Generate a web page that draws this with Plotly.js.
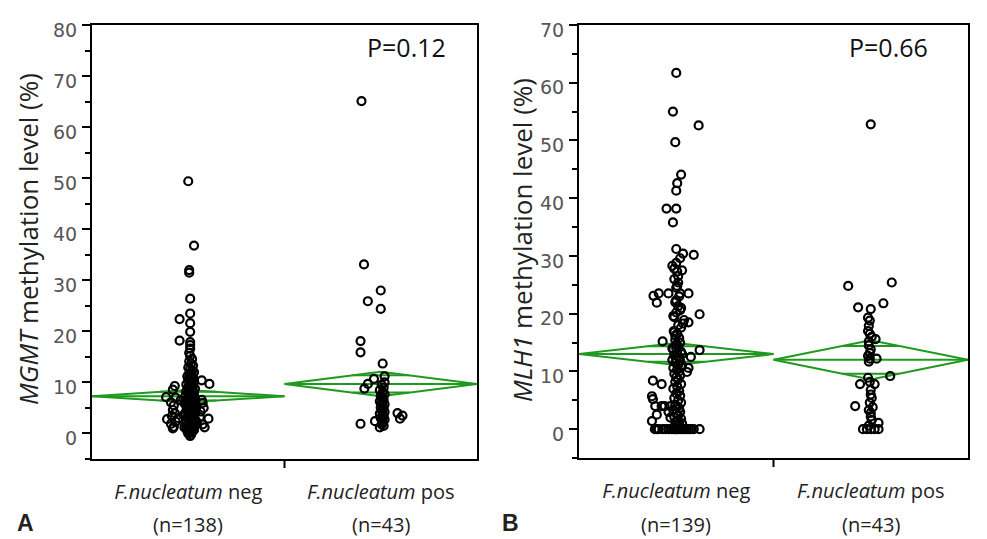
<!DOCTYPE html>
<html>
<head>
<meta charset="utf-8">
<script src="https://cdn.plot.ly/plotly-3.0.1.min.js"></script>
<style>html,body{margin:0;padding:0;background:#fff;}#chart{width:987px;height:539px;}</style>
</head>
<body>
<div id="chart"></div>
<script>
// ---------- DATA ----------
const groupNames = ['<i>F.nucleatum</i> neg', '<i>F.nucleatum</i> pos'];
const groupNsA = ['(n=138)', '(n=43)'];
const groupNsB = ['(n=139)', '(n=43)'];
const titleA = '<i>MGMT</i> methylation level (%)';
const titleB = '<i>MLH1</i> methylation level (%)';
const pValueA = 'P=0.12';
const pValueB = 'P=0.66';

// Panel A, negative group (138 points): values and horizontal jitter (category units)
const mgmtNegY = [
  49.4, 36.8, 32.0, 31.5, 26.4, 23.5, 22.4, 21.6, 19.9, 18.2, 17.9, 17.3, 16.6, 15.8,
  9.3, 8.6, 7.1, 7.0, 6.1, 5.5, 4.6, 4.0, 3.4, 2.8, 2.3, 1.9, 1.3, 1.0, 6.5, 3.0,
  10.4, 9.7, 6.6, 6.0, 5.0, 4.3, 3.2, 2.9, 1.8, 1.2, 5.5, 2.2,
  15.2, 14.6, 14.1, 13.7, 13.3, 12.9, 12.6, 12.3, 12.0, 11.7,
  11.5, 11.2, 11.0, 10.8, 10.6, 10.4, 10.2, 10.0, 9.8, 9.6,
  9.4, 9.3, 9.1, 8.9, 8.8, 8.6, 8.5, 8.3, 8.2, 8.0,
  7.9, 7.7, 7.6, 7.4, 7.3, 7.1, 7.0, 6.9, 6.7, 6.6,
  6.5, 6.3, 6.2, 6.1, 5.9, 5.8, 5.7, 5.5, 5.4, 5.3,
  5.1, 5.0, 4.9, 4.7, 4.6, 4.5, 4.3, 4.2, 4.1, 3.9,
  3.8, 3.7, 3.5, 3.4, 3.3, 3.1, 3.0, 2.9, 2.7, 2.6,
  2.5, 2.3, 2.2, 2.1, 1.9, 1.8, 1.7, 1.5, 1.4, 1.3,
  1.1, 1.0, 0.9, 0.7, 0.6, 0.5, 0.3, 0.2, 0.0, -0.2,
  -0.5, 1.2, 2.4, 3.6, 4.8, 6.0
];
const mgmtNegDx = [
  0, 0.03, 0.005, 0.005, 0.01, 0.01, -0.045, 0.01, 0.01, -0.045, 0.01, 0.01, 0.01, 0.005,
  -0.07, -0.08, -0.115, -0.065, -0.09, -0.075, -0.08, -0.07, -0.085, -0.11, -0.065, -0.09, -0.075, -0.08, -0.04, -0.05,
  0.07, 0.11, 0.07, 0.075, 0.08, 0.065, 0.06, 0.105, 0.075, 0.085, 0.04, 0.045,
  0.01, 0.02, 0.005, 0.015, 0.025, 0.0, 0.01, 0.02, 0.03, 0.005,
  0.015, -0.005, 0.025, 0.01, 0.0, 0.02, 0.03, 0.005, 0.015, -0.01,
  0.01, 0.025, 0.0, 0.02, 0.035, 0.005, 0.015, -0.01, 0.01, 0.03,
  0.0, 0.02, 0.01, -0.015, 0.025, 0.005, 0.035, 0.015, -0.005, 0.02,
  0.01, 0.03, -0.01, 0.005, 0.025, 0.015, -0.015, 0.02, 0.0, 0.035,
  0.01, -0.005, 0.025, 0.015, 0.03, -0.01, 0.005, 0.02, 0.0, 0.035,
  0.015, -0.015, 0.025, 0.01, 0.03, -0.005, 0.02, 0.0, 0.035, 0.01,
  -0.01, 0.025, 0.015, 0.03, -0.015, 0.005, 0.02, 0.035, 0.0, 0.01,
  0.025, -0.01, 0.015, 0.03, 0.005, -0.005, 0.02, 0.01, 0.0, 0.015,
  0.01, -0.02, 0.04, -0.025, 0.04, -0.02
];

// Panel A, positive group (43 points)
const mgmtPosY = [
  65.1, 33.1, 28.0, 25.9, 24.4, 18.1, 15.9, 13.7, 11.2, 10.7, 10.0, 9.7, 8.8, 4.0, 3.5, 2.9, 2.4, 1.9, 1.2,
  9.5, 9.0, 8.5, 8.1, 7.7, 7.3, 7.0, 6.6, 6.3, 6.0, 5.7, 5.4, 5.1, 4.8, 4.5, 4.2, 3.9, 3.6, 3.3, 3.0, 2.7, 2.2, 1.8, 1.5
];
const mgmtPosDx = [
  -0.1, -0.087, 0, -0.067, 0, -0.105, -0.105, 0.01, 0.02, -0.035, 0.02, -0.067, -0.085, 0.087, 0.113, 0.1, -0.03, -0.105, -0.005,
  0.005, 0.015, -0.005, 0.01, 0.02, 0, 0.01, 0.015, -0.005, 0.005, 0.02, 0.01, 0, 0.015, 0.005, 0.02, -0.005, 0.01, 0.015, 0, 0.02, 0.01, 0.005, 0.015
];

// Panel B, negative group (139 points)
const mlh1NegY = [
  61.7, 55.0, 52.6, 49.7, 44.1, 42.6, 41.3, 38.2, 38.2, 35.8,
  31.2, 30.4, 30.2, 29.6, 28.3, 27.8, 27.3, 27.5, 25.4, 24.5,
  23.1, 23.5, 21.9, 23.5, 23.5, 23.5, 22.3, 21.3, 21.0, 19.9,
  19.4, 18.9, 18.5, 18.3, 17.0, 16.2, 15.2, 14.0, 13.7, 12.5,
  10.6, 9.9, 8.4, 7.8, 5.7, 5.2, 4.0, 4.0, 4.0, 2.5, 1.4,
  0, 0, 0, 0, 0, 0, 0, 0, 0, 0, 0, 0, 0, 0, 0, 0, 0, 0, 0, 0,
  28.8, 26.5, 26.0, 24.8, 23.0, 22.0, 20.6, 20.2, 19.6, 18.0,
  17.6, 16.8, 16.5, 15.8, 15.5, 15.0, 14.6, 14.3, 13.8, 13.4,
  13.1, 12.8, 12.4, 12.1, 11.8, 11.5, 11.2, 10.9, 10.6, 10.3,
  10.0, 9.6, 9.3, 9.0, 8.6, 8.2, 7.8, 7.4, 7.0, 6.6,
  6.2, 5.8, 5.4, 5.0, 4.6, 4.2, 3.9, 3.6, 3.3, 3.0,
  2.7, 2.4, 2.1, 1.8, 1.5, 1.2, 0.9, 0.6, 0.4, 0.2,
  11.0, 12.0, 13.0, 14.0, 4.0, 3.0, 2.0, 1.0
];
const mlh1NegDx = [
  0, -0.017, 0.115, -0.005, 0.025, 0.005, 0, -0.05, 0, -0.017,
  0, 0.035, 0.09, 0.02, -0.02, -0.01, 0.005, 0.03, 0.01, 0.0,
  -0.117, -0.09, -0.1, -0.04, 0.02, 0.063, 0, 0.01, 0.025, 0.12,
  -0.01, 0.04, 0.063, 0.035, -0.013, -0.005, -0.07, 0, 0.12, 0.075,
  0.063, 0.055, -0.12, -0.075, -0.125, -0.12, -0.108, -0.075, -0.06, -0.1, -0.125,
  -0.11, -0.09, -0.07, -0.055, -0.04, -0.025, -0.015, -0.005, 0.005, 0.015,
  0.025, 0.035, 0.045, 0.055, 0.065, 0.075, 0.09, 0.12, -0.1, 0.0,
  0.0, 0.01, -0.01, 0.005, 0.015, -0.005, 0.02, 0.0, -0.015, 0.01,
  0.025, -0.01, 0.005, 0.015, -0.005, 0.02, 0.0, 0.01, -0.015, 0.025,
  0.005, -0.01, 0.015, 0.0, 0.02, -0.005, 0.01, 0.025, -0.015, 0.005,
  0.015, -0.01, 0.02, 0.0, 0.01, -0.005, 0.025, 0.005, -0.015, 0.015,
  0.0, 0.02, -0.01, 0.01, 0.025, -0.005, 0.005, 0.015, -0.015, 0.02,
  0.0, 0.01, -0.01, 0.025, 0.005, -0.005, 0.015, 0.0, 0.02, -0.01,
  0.03, -0.02, 0.03, -0.02, -0.03, -0.04, -0.03, 0.03
];

// Panel B, positive group (43 points)
const mlh1PosY = [
  52.8, 25.4, 24.8, 21.8, 21.1, 20.8, 19.3, 18.8, 17.9, 17.0,
  16.5, 16.0, 15.6, 15.2, 12.7, 12.2, 12.2, 11.7, 13.2, 9.2,
  8.9, 8.2, 7.8, 7.8, 6.8, 6.0, 5.4, 4.0, 4.6, 3.3,
  2.8, 2.2, 1.6, 1.1, 0.6, 0, 0, 0, 0, 0,
  14.5, 13.8, 3.8
];
const mlh1PosDx = [
  0, 0.108, -0.116, 0.065, -0.065, 0, -0.014, -0.005, -0.01, -0.014,
  -0.005, 0.005, 0.025, -0.01, -0.014, -0.005, 0.03, -0.01, -0.005, 0.1,
  -0.014, -0.005, 0.02, -0.055, 0, 0, 0.005, -0.08, -0.005, -0.01,
  0, 0, 0.005, 0.04, -0.01, -0.04, -0.02, 0, 0.02, 0.04,
  -0.01, 0.0, 0.01
];

// Mean diamonds: group means and 95% CI bounds
const mgmtMeans = [7.3, 9.7];
const mgmtLower = [6.1, 7.3];
const mgmtUpper = [8.5, 12.1];
const mlh1Means = [13.0, 12.0];
const mlh1Lower = [11.1, 8.6];
const mlh1Upper = [14.9, 15.4];

// ---------- BUILD ----------
const GREEN = '#1f9a1f';
function pointsTrace(ys, dxs, gi, xa, ya) {
  return {
    type: 'scatter', mode: 'markers', xaxis: xa, yaxis: ya,
    x: dxs.map(d => gi + d), y: ys,
    marker: {symbol: 'circle-open', size: 8, color: '#000', line: {width: 2.2, color: '#000'}},
    hoverinfo: 'y', showlegend: false
  };
}
function diamondTrace(means, lo, hi, xa, ya) {
  const x = [], y = [];
  means.forEach((m, i) => {
    const L = i - 0.5, R = i + 0.5;
    x.push(L, i, R, i, L, null); y.push(m, hi[i], m, lo[i], m, null);
    x.push(L, R, null); y.push(m, m, null);
    const f = 1 / Math.SQRT2;
    const hw = 0.5 * (1 - f);
    const up = m + (hi[i] - m) * f, dn = m - (m - lo[i]) * f;
    x.push(i - hw, i + hw, null); y.push(up, up, null);
    x.push(i - hw, i + hw, null); y.push(dn, dn, null);
  });
  return {type: 'scatter', mode: 'lines', x, y, xaxis: xa, yaxis: ya,
    line: {color: GREEN, width: 2}, hoverinfo: 'skip', showlegend: false};
}

const data = [
  diamondTrace(mgmtMeans, mgmtLower, mgmtUpper, 'x', 'y'),
  diamondTrace(mlh1Means, mlh1Lower, mlh1Upper, 'x2', 'y2'),
  pointsTrace(mgmtNegY, mgmtNegDx, 0, 'x', 'y'),
  pointsTrace(mgmtPosY, mgmtPosDx, 1, 'x', 'y'),
  pointsTrace(mlh1NegY, mlh1NegDx, 0, 'x2', 'y2'),
  pointsTrace(mlh1PosY, mlh1PosDx, 1, 'x2', 'y2')
];

const W = 987, H = 539;
const px = v => v / W, py = v => 1 - v / H;
const CAT_FONT = {family: 'Open Sans, sans-serif', size: 20, color: '#222'};

function xAxis(domain, anchor) {
  return {
    domain, anchor, range: [-0.5, 1.5], showgrid: false, zeroline: false,
    showline: true, mirror: true, linecolor: '#000', linewidth: 2,
    tickvals: [0, 1], ticktext: groupNames,
    ticks: '', ticklabelstandoff: 14,
    tickfont: CAT_FONT
  };
}
function yAxis(domain, anchor, top) {
  return {
    domain, anchor, range: [-5, top], showgrid: false, zeroline: false,
    showline: true, mirror: true, linecolor: '#000', linewidth: 2,
    tick0: 0, dtick: 10, ticks: 'outside', ticklen: 8, tickwidth: 2, tickcolor: '#000',
    minor: {tick0: 0, dtick: 5, ticks: 'outside', ticklen: 5, tickwidth: 2, tickcolor: '#000'},
    ticklabelshift: 5, ticklabelstandoff: 1,
    tickfont: {family: 'DejaVu Sans, sans-serif', size: 19, color: '#555'}
  };
}

const nAnn = (txt, xref, xv) => ({text: txt, xref, yref: 'paper', x: xv, y: py(524), showarrow: false,
  font: CAT_FONT, xanchor: 'center', yanchor: 'middle'});

const layout = {
  width: W, height: H, margin: {l: 0, r: 0, t: 0, b: 0},
  paper_bgcolor: '#fff', plot_bgcolor: '#fff', showlegend: false,
  xaxis: xAxis([px(92), px(477)], 'y'),
  yaxis: yAxis([py(459), py(25)], 'x', 80),
  xaxis2: xAxis([px(579), px(968)], 'y2'),
  yaxis2: yAxis([py(458), py(25)], 'x2', 70),
  shapes: [
    {type: 'line', xref: 'x', yref: 'paper', x0: 0.5, x1: 0.5, y0: py(459), y1: py(468), line: {color: '#000', width: 2}},
    {type: 'line', xref: 'x2', yref: 'paper', x0: 0.5, x1: 0.5, y0: py(458), y1: py(467), line: {color: '#000', width: 2}}
  ],
  annotations: [
    nAnn(groupNsA[0], 'x', 0), nAnn(groupNsA[1], 'x', 1),
    nAnn(groupNsB[0], 'x2', 0), nAnn(groupNsB[1], 'x2', 1),
    {text: titleA, xref: 'paper', yref: 'paper', x: px(28), y: py(239), textangle: -90, showarrow: false,
      font: {family: 'Open Sans, sans-serif', size: 26, color: '#222'}, xanchor: 'center', yanchor: 'middle'},
    {text: titleB, xref: 'paper', yref: 'paper', x: px(522), y: py(240), textangle: -90, showarrow: false,
      font: {family: 'Open Sans, sans-serif', size: 26, color: '#222'}, xanchor: 'center', yanchor: 'middle'},
    {text: pValueA, xref: 'paper', yref: 'paper', x: px(406), y: py(47), showarrow: false,
      font: {family: 'Open Sans, sans-serif', size: 25, color: '#111'}, xanchor: 'center', yanchor: 'middle'},
    {text: pValueB, xref: 'paper', yref: 'paper', x: px(888), y: py(47), showarrow: false,
      font: {family: 'Open Sans, sans-serif', size: 25, color: '#111'}, xanchor: 'center', yanchor: 'middle'},
    {text: '<b>A</b>', xref: 'paper', yref: 'paper', x: px(25), y: py(523), showarrow: false,
      font: {family: 'Liberation Sans, Arial, sans-serif', size: 23, color: '#222'}, xanchor: 'center', yanchor: 'middle'},
    {text: '<b>B</b>', xref: 'paper', yref: 'paper', x: px(511), y: py(523), showarrow: false,
      font: {family: 'Liberation Sans, Arial, sans-serif', size: 23, color: '#222'}, xanchor: 'center', yanchor: 'middle'}
  ]
};

Plotly.newPlot('chart', data, layout, {staticPlot: true, displayModeBar: false});
</script>
</body>
</html>
